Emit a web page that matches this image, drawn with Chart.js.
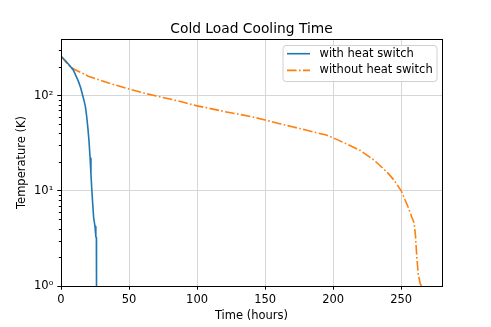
<!DOCTYPE html>
<html>
<head>
<meta charset="utf-8">
<script src="https://cdn.jsdelivr.net/npm/chart.js@4"></script>
<style>
  html, body { margin: 0; padding: 0; background: #fff; }
</style>
</head>
<body>
<canvas id="chart" width="491" height="327"></canvas>
<script>
// with heat switch
const withTime = [0, 3, 6, 9, 12, 13.2, 14.5, 15.9, 17, 17.9, 18.9, 19.8, 20.6, 21.4, 22, 22.6, 23.2, 24, 24.5, 25, 25.5, 25.7, 26, 26.1];
const withTemp = [259, 235, 210, 186, 150, 136, 120, 101, 88, 77, 60, 45, 33, 22, 15, 10.5, 7.7, 5.2, 4.7, 4.2, 3.6, 3.3, 3.2, 1];

// without heat switch
const withoutTime = [0, 3, 6.6, 10, 20, 30, 40, 50, 60, 70, 80, 90, 100, 110, 120, 130, 140, 150, 160, 170, 180, 190, 195, 200, 210, 220, 230, 240, 245, 250, 255, 258, 259.5, 260.5, 261.5, 262.5, 264, 265];
const withoutTemp = [260, 230, 202, 188, 160, 143, 129, 117, 107, 99, 92, 85, 78, 73, 68, 64, 60, 55.5, 51, 47, 43.5, 40, 38.5, 36, 31, 26.5, 21, 15.5, 12.8, 10, 6.8, 5.2, 4.6, 3.4, 2, 1.35, 1.05, 1];

const xTicks = [0, 50, 100, 150, 200, 250];
const yTicks = [1, 10, 100];
const yTickLabels = ['10⁰', '10¹', '10²'];
const seriesNames = ['with heat switch', 'without heat switch'];
const chartTitle = 'Cold Load Cooling Time';

const font = 'DejaVu Sans';
const textSize = 11.5;

const toPoints = (xs, ys) => xs.map((x, i) => ({ x: x, y: ys[i] }));

// title, frame, minor log ticks and the boxed legend, matplotlib style
const decorations = {
  id: 'decorations',
  afterDatasetsDraw(chart) {
    const ctx = chart.ctx;
    const a = chart.chartArea;
    const y = chart.scales.y;
    ctx.save();

    // title centred on the plot area
    ctx.fillStyle = '#000';
    ctx.font = '13.8px "' + font + '"';
    ctx.textAlign = 'center';
    ctx.textBaseline = 'alphabetic';
    ctx.fillText(chartTitle, (a.left + a.right) / 2, 32.5);
    ctx.textAlign = 'left';

    // minor ticks on the log axis
    ctx.strokeStyle = '#000';
    ctx.lineWidth = 1;
    for (let p = 1; p <= 100; p *= 10) {
      for (let m = 2; m <= 9; m++) {
        const v = m * p;
        if (v > y.max) continue;
        const py = Math.round(y.getPixelForValue(v)) + 0.5;
        ctx.beginPath();
        ctx.moveTo(a.left, py);
        ctx.lineTo(a.left - 2.2, py);
        ctx.stroke();
      }
    }

    // frame
    ctx.strokeRect(Math.round(a.left) + 0.5, Math.round(a.top) + 0.5,
                   Math.round(a.right - a.left), Math.round(a.bottom - a.top));

    // legend
    const bw = 154, bh = 36;
    const bx = a.right - 5.5 - bw, by = a.top + 6;
    ctx.fillStyle = 'rgba(255,255,255,0.8)';
    ctx.strokeStyle = '#d0d0d0';
    ctx.beginPath();
    ctx.roundRect(bx + 0.5, by + 0.5, bw, bh, 3);
    ctx.fill();
    ctx.stroke();

    ctx.font = textSize + 'px "' + font + '"';
    ctx.textBaseline = 'middle';
    chart.data.datasets.forEach((ds, i) => {
      const ly = by + 8.7 + i * 16.7;
      ctx.strokeStyle = ds.borderColor;
      ctx.lineWidth = ds.borderWidth;
      ctx.setLineDash(ds.borderDash || []);
      ctx.beginPath();
      ctx.moveTo(bx + 4.5, ly);
      ctx.lineTo(bx + 27.5, ly);
      ctx.stroke();
      ctx.setLineDash([]);
      ctx.fillStyle = '#000';
      ctx.fillText(ds.label, bx + 37, ly);
    });
    ctx.restore();
  }
};

new Chart(document.getElementById('chart'), {
  type: 'line',
  data: {
    datasets: [{
      label: seriesNames[0],
      data: toPoints(withTime, withTemp),
      borderColor: '#1f77b4',
      borderWidth: 1.6,
      borderJoinStyle: 'round',
      pointRadius: 0,
      tension: 0,
      fill: false
    }, {
      label: seriesNames[1],
      data: toPoints(withoutTime, withoutTemp),
      borderColor: '#ff7f0e',
      borderWidth: 1.6,
      borderDash: [9.6, 2.4, 1.6, 2.4],
      pointRadius: 0,
      tension: 0,
      fill: false
    }]
  },
  options: {
    responsive: false,
    animation: false,
    devicePixelRatio: 1,
    layout: { padding: { left: 0, right: 49, top: 39, bottom: 0 } },
    plugins: {
      legend: { display: false },
      tooltip: { enabled: false },
      title: { display: false }
    },
    scales: {
      x: {
        type: 'linear',
        min: 0,
        max: 280,
        afterBuildTicks: s => { s.ticks = xTicks.map(v => ({ value: v })); },
        afterFit: s => { s.height = 41; },
        grid: { color: '#d6d6d6', tickColor: '#000', tickLength: 3.7, lineWidth: 1 },
        border: { display: false },
        ticks: { color: '#000', font: { family: font, size: textSize }, padding: 3.2, maxRotation: 0 },
        title: { display: true, text: 'Time (hours)', color: '#000', font: { family: font, size: textSize }, padding: { top: 0, bottom: 4.4 } }
      },
      y: {
        type: 'logarithmic',
        min: 1,
        max: 393,
        afterBuildTicks: s => { s.ticks = yTicks.map(v => ({ value: v })); },
        afterFit: s => { s.width = 61; },
        grid: { color: '#d6d6d6', tickColor: '#000', tickLength: 3.7, lineWidth: 1 },
        border: { display: false },
        ticks: {
          color: '#000',
          font: { family: font, size: textSize },
          padding: 4,
          callback: v => yTickLabels[yTicks.indexOf(v)]
        },
        title: { display: true, text: 'Temperature (K)', color: '#000', font: { family: font, size: textSize }, padding: { top: 15, bottom: 0 } }
      }
    }
  },
  plugins: [decorations]
});
</script>
</body>
</html>
